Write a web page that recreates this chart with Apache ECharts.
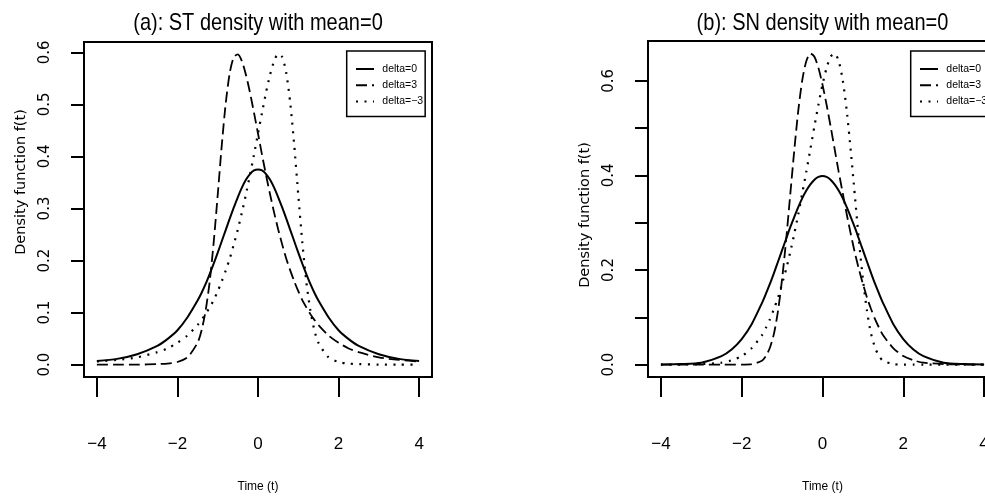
<!DOCTYPE html>
<html>
<head>
<meta charset="utf-8">
<script src="https://cdn.jsdelivr.net/npm/echarts@6/dist/echarts.min.js"></script>
<style>
  html, body { margin: 0; padding: 0; background: #fff; }
  #chart { width: 985px; height: 500px; }
</style>
</head>
<body>
<div id="chart"></div>
<script>
// Evaluation points on the time axis (denser around the peaks)
const timePoints = [-4, -3.5, -3, -2.5, -2.25, -2, -1.75, -1.5,
  -1.4, -1.3, -1.2, -1.1, -1, -0.9, -0.8, -0.7, -0.6, -0.5, -0.4, -0.3, -0.2, -0.1,
  0,
  0.1, 0.2, 0.3, 0.4, 0.5, 0.6, 0.7, 0.8, 0.9, 1, 1.1, 1.2, 1.3, 1.4,
  1.5, 1.75, 2, 2.25, 2.5, 3, 3.5, 4];

// (a) skew-t densities
const stDelta0 = [0.007, 0.011, 0.020, 0.036, 0.049, 0.066, 0.091, 0.123,
  0.138, 0.155, 0.174, 0.194, 0.215, 0.237, 0.259, 0.281, 0.302, 0.322, 0.340, 0.355, 0.366, 0.373,
  0.375,
  0.373, 0.366, 0.355, 0.340, 0.322, 0.302, 0.281, 0.259, 0.237, 0.215, 0.194, 0.174, 0.155, 0.138,
  0.123, 0.091, 0.066, 0.049, 0.036, 0.020, 0.011, 0.007];
const stDelta3 = [0.000, 0.000, 0.000, 0.001, 0.002, 0.005, 0.014, 0.042,
  0.066, 0.104, 0.159, 0.235, 0.326, 0.421, 0.503, 0.561, 0.591, 0.596, 0.583, 0.557, 0.523, 0.484,
  0.444,
  0.403, 0.364, 0.327, 0.292, 0.260, 0.231, 0.204, 0.181, 0.160, 0.141, 0.124, 0.110, 0.097, 0.086,
  0.076, 0.056, 0.042, 0.031, 0.024, 0.014, 0.009, 0.006];
const stDeltaMinus3 = [0.006, 0.009, 0.014, 0.024, 0.031, 0.042, 0.056, 0.076,
  0.086, 0.097, 0.110, 0.124, 0.141, 0.160, 0.181, 0.204, 0.231, 0.260, 0.292, 0.327, 0.364, 0.403,
  0.444,
  0.484, 0.523, 0.557, 0.583, 0.597, 0.591, 0.561, 0.503, 0.421, 0.326, 0.235, 0.159, 0.104, 0.066,
  0.042, 0.014, 0.005, 0.002, 0.001, 0.000, 0.000, 0.000];

// (b) skew-normal densities
const snDelta0 = [0.000, 0.001, 0.004, 0.018, 0.032, 0.054, 0.086, 0.130,
  0.150, 0.171, 0.194, 0.218, 0.242, 0.266, 0.290, 0.312, 0.333, 0.352, 0.368, 0.381, 0.391, 0.397,
  0.399,
  0.397, 0.391, 0.381, 0.368, 0.352, 0.333, 0.312, 0.290, 0.266, 0.242, 0.218, 0.194, 0.171, 0.150,
  0.130, 0.086, 0.054, 0.032, 0.018, 0.004, 0.001, 0.000];
const snDelta3 = [0.000, 0.000, 0.000, 0.000, 0.000, 0.000, 0.001, 0.008,
  0.018, 0.036, 0.066, 0.114, 0.181, 0.264, 0.358, 0.452, 0.537, 0.602, 0.642, 0.658, 0.651, 0.627,
  0.592,
  0.550, 0.504, 0.456, 0.408, 0.363, 0.318, 0.276, 0.237, 0.202, 0.171, 0.142, 0.118, 0.096, 0.078,
  0.062, 0.035, 0.018, 0.009, 0.004, 0.001, 0.000, 0.000];
const snDeltaMinus3 = [0.000, 0.000, 0.001, 0.004, 0.009, 0.018, 0.035, 0.062,
  0.078, 0.096, 0.118, 0.142, 0.171, 0.202, 0.237, 0.276, 0.318, 0.363, 0.408, 0.456, 0.504, 0.550,
  0.592,
  0.627, 0.651, 0.658, 0.642, 0.602, 0.537, 0.452, 0.358, 0.264, 0.181, 0.114, 0.066, 0.036, 0.018,
  0.008, 0.001, 0.000, 0.000, 0.000, 0.000, 0.000, 0.000];

// Ticks and labels
const timeTicks = [-4, -2, 0, 2, 4];
const stDensityTicks = [0, 0.1, 0.2, 0.3, 0.4, 0.5, 0.6];
const snDensityTicks = [0, 0.1, 0.2, 0.3, 0.4, 0.5, 0.6];
const snDensityLabels = [0, 0.2, 0.4, 0.6];
const seriesNames = ['delta=0', 'delta=3', 'delta=\u22123'];
const panelTitles = ['(a): ST density with mean=0', '(b): SN density with mean=0'];

const SANS = "'Liberation Sans', Arial, sans-serif";
const WIDE = "'DejaVu Sans', sans-serif";

const panels = [
  { left: 84, top: 42, width: 348, height: 335, yMin: -0.0238, yMax: 0.6198,
    ticks: stDensityTicks, labels: stDensityTicks, namePad: [0, 0, 0, 55],
    curves: [stDelta0, stDelta3, stDeltaMinus3] },
  { left: 648, top: 41, width: 349, height: 336, yMin: -0.0263, yMax: 0.6843,
    ticks: snDensityTicks, labels: snDensityLabels, namePad: [0, 12, 0, 0],
    curves: [snDelta0, snDelta3, snDeltaMinus3] }
];

const lineStyles = [
  { type: 'solid', width: 2 },
  { type: [11, 5], width: 1.8 },
  { type: [2, 6.5], width: 2.2 }
];

const grids = [], xAxes = [], yAxes = [], series = [], legends = [], graphics = [];

panels.forEach((p, k) => {
  grids.push({ left: p.left, top: p.top, width: p.width, height: p.height,
    show: true, borderColor: '#000', borderWidth: 2, backgroundColor: 'transparent',
    outerBoundsMode: 'none' });

  xAxes.push({
    type: 'value', gridIndex: k, min: -4.32, max: 4.32,
    axisLine: { show: false, onZero: false },
    splitLine: { show: false },
    axisTick: { show: true, length: 20, customValues: timeTicks,
      lineStyle: { color: '#000', width: 2 } },
    axisLabel: { customValues: timeTicks, margin: 59, color: '#000',
      fontFamily: SANS, fontSize: 17,
      formatter: v => String(v).replace('-', '\u2212') },
    name: 'Time (t)', nameLocation: 'middle', nameGap: 104,
    nameTextStyle: { color: '#000', fontFamily: SANS, fontSize: 12 }
  });

  yAxes.push({
    type: 'value', gridIndex: k, min: p.yMin, max: p.yMax,
    axisLine: { show: false, onZero: false },
    splitLine: { show: false },
    axisTick: { show: true, length: 13, customValues: p.ticks,
      lineStyle: { color: '#000', width: 2 } },
    axisLabel: { customValues: p.labels, rotate: 90, margin: 31, color: '#000',
      fontFamily: WIDE, fontSize: 15, formatter: v => v.toFixed(1) },
    name: 'Density function f(t)', nameLocation: 'middle', nameRotate: 90, nameGap: 55,
    nameTextStyle: { color: '#000', fontFamily: WIDE, fontSize: 14.5, padding: p.namePad }
  });

  p.curves.forEach((vals, j) => {
    series.push({
      type: 'line', name: seriesNames[j], xAxisIndex: k, yAxisIndex: k,
      data: timePoints.map((t, i) => [t, vals[i]]),
      symbol: 'none', smooth: 0.25, silent: true,
      lineStyle: Object.assign({ color: '#000' }, lineStyles[j])
    });
  });

  legends.push({
    data: seriesNames, orient: 'vertical',
    left: p.left + 262.7, top: 51,
    itemWidth: 18, itemHeight: 12, itemGap: 5.3,
    padding: [12.5, 2, 9.5, 8.3],
    borderColor: '#000', borderWidth: 1.5, borderRadius: 0,
    selectedMode: false,
    itemStyle: { opacity: 0 },
    textStyle: { color: '#000', fontFamily: SANS, fontSize: 10.5, padding: [0, 0, 0, 3.3] }
  });

  // panel heading, stretched slightly in height
  graphics.push({
    type: 'text', x: p.left + p.width / 2, y: 23, scaleY: 1.18,
    style: { text: panelTitles[k], fill: '#000', font: "20px 'Liberation Sans', Arial, sans-serif",
      align: 'center', verticalAlign: 'middle', textAlign: 'center', textVerticalAlign: 'middle' }
  });
});

const chart = echarts.init(document.getElementById('chart'), null, { renderer: 'canvas' });
chart.setOption({
  animation: false,
  backgroundColor: '#fff',
  grid: grids,
  xAxis: xAxes,
  yAxis: yAxes,
  legend: legends,
  series: series,
  graphic: graphics
});
</script>
</body>
</html>
